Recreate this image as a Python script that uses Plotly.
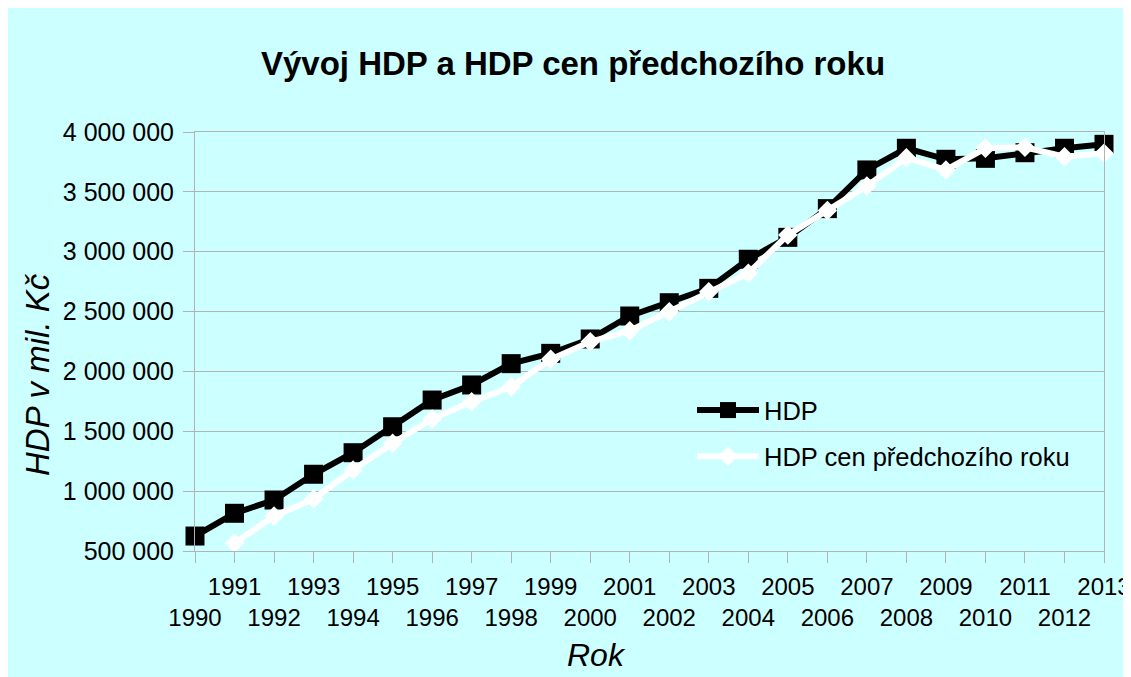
import plotly.graph_objects as go

years = list(range(1990, 2014))
hdp = [625000, 815000, 926000, 1141000, 1321000, 1538000, 1761000, 1887000,
       2065000, 2151000, 2271000, 2463000, 2574000, 2694000, 2937000, 3120000,
       3360000, 3683000, 3864000, 3772000, 3780000, 3827000, 3864000, 3897000]
hdp_prev_years = years[1:]
hdp_prev = [564000, 792000, 934000, 1177000, 1400000, 1603000, 1747000,
            1872000, 2101000, 2248000, 2340000, 2499000, 2666000, 2820000,
            3140000, 3345000, 3549000, 3785000, 3683000, 3864000, 3872000,
            3794000, 3822000]
x_tick_text = [str(y) if y % 2 else "<br>" + str(y) for y in years]
y_ticks = [500000, 1000000, 1500000, 2000000, 2500000, 3000000, 3500000, 4000000]

FONT = "Liberation Sans, Arial, sans-serif"
CYAN = "#ccffff"
GRID = "#b3b3b3"

# page body has an 8px margin; figure coordinates = screen - 8
W, H = 1123, 669
L, R, T, B = 187, 27, 124, 126
pw, ph = W - L - R, H - T - B

fig = go.Figure()
fig.add_trace(go.Scatter(
    x=years, y=hdp, name="HDP", mode="lines+markers",
    line=dict(color="black", width=6),
    marker=dict(symbol="square", size=19, color="black"),
    cliponaxis=False, legendgroup="a"))
fig.add_trace(go.Scatter(
    x=hdp_prev_years, y=hdp_prev, name="HDP cen předchozího roku",
    mode="lines+markers",
    line=dict(color="white", width=6),
    marker=dict(symbol="diamond", size=15, color="white"),
    cliponaxis=False, legendgroup="b"))

fig.update_layout(
    width=W, height=H,
    margin=dict(l=L, r=R, t=T, b=B, autoexpand=False),
    paper_bgcolor=CYAN, plot_bgcolor=CYAN,
    separators=", ",
    font=dict(family=FONT, size=24, color="black"),
    title=dict(text="<b>Vývoj HDP a HDP cen předchozího roku</b>",
               font=dict(family=FONT, size=33, color="black"),
               x=565 / W, xref="container", xanchor="center",
               y=1 - 55 / H, yref="container", yanchor="middle"),
    showlegend=True,
    legend=dict(x=(684 - L) / pw, xanchor="left",
                y=(T + ph - 425.5) / ph, yanchor="middle",
                bgcolor="rgba(0,0,0,0)", font=dict(family=FONT, size=25.5),
                traceorder="grouped", tracegroupgap=10, itemwidth=62),
    xaxis=dict(range=[1990, 2013], tickvals=years, ticktext=x_tick_text,
               showgrid=False, zeroline=False, showline=True,
               linecolor=GRID, linewidth=1, mirror=True,
               ticks="outside", ticklen=11, tickcolor=GRID, tickwidth=1,
               tickangle=0, automargin=False, ticklabelstandoff=3,
               tickfont=dict(family=FONT, size=24, color="black")),
    yaxis=dict(range=[500000, 4000000], tickvals=y_ticks, tickformat=",d",
               showgrid=True, gridcolor=GRID, gridwidth=1, zeroline=False,
               showline=True, linecolor=GRID, linewidth=1, mirror=True,
               ticks="outside", ticklen=11, tickcolor=GRID, tickwidth=1,
               automargin=False, ticklabelstandoff=4,
               tickfont=dict(family=FONT, size=25, color="black")),
    annotations=[
        dict(text="<i>Rok</i>", xref="paper", yref="paper",
             x=(588 - L) / pw, y=(T + ph - 647) / ph,
             xanchor="center", yanchor="middle", showarrow=False,
             font=dict(family=FONT, size=32, color="black")),
        dict(text="<i>HDP v mil. Kč</i>", xref="paper", yref="paper",
             x=(29 - L) / pw, y=(T + ph - 367) / ph, textangle=-90,
             xanchor="center", yanchor="middle", showarrow=False,
             font=dict(family=FONT, size=33, color="black")),
    ],
)

fig.write_html("out.html")
